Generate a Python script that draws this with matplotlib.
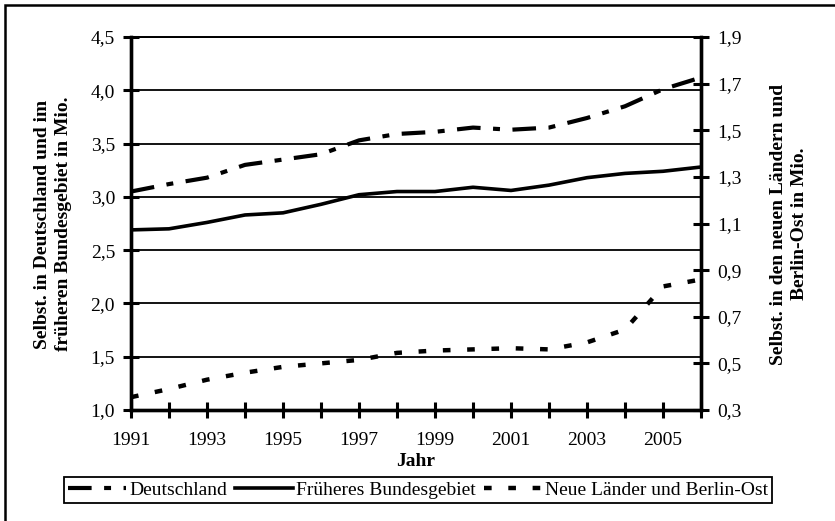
import numpy as np
import matplotlib
matplotlib.use("Agg")
import matplotlib.pyplot as plt
from matplotlib.patches import Rectangle
from matplotlib.ticker import FuncFormatter

# Data
years = list(range(1991, 2007))
deutschland = [3.05, 3.12, 3.18, 3.30, 3.35, 3.40, 3.53, 3.59, 3.61, 3.65, 3.63,
               3.65, 3.74, 3.85, 4.01, 4.12]
frueheres = [2.69, 2.70, 2.76, 2.83, 2.85, 2.93, 3.02, 3.05, 3.05, 3.09, 3.06,
             3.11, 3.18, 3.22, 3.24, 3.28]
neue = [0.355, 0.39, 0.43, 0.46, 0.485, 0.50, 0.515, 0.545, 0.555, 0.56, 0.565,
        0.56, 0.59, 0.645, 0.83, 0.86]
x_labels = [1991, 1993, 1995, 1997, 1999, 2001, 2003, 2005]

plt.rcParams["font.family"] = ["Liberation Serif", "DejaVu Serif"]
plt.rcParams["lines.scale_dashes"] = False

fig = plt.figure(figsize=(8.35, 5.21), dpi=100)
ax = fig.add_axes([131 / 835, 111 / 521, 570 / 835, 373 / 521])
ax2 = ax.twinx()

comma = FuncFormatter(lambda v, p: f"{v:.1f}".replace(".", ","))

# Left axis
ax.set_xlim(1991, 2006)
ax.set_ylim(1.0, 4.5)
ax.set_yticks(np.arange(1.0, 4.51, 0.5))
ax.yaxis.set_major_formatter(comma)
ax.set_xticks(years)
ax.set_xticklabels([str(y) if y in x_labels else "" for y in years])
ax.grid(axis="y", color="black", linewidth=1.3)
ax.set_axisbelow(True)

ln1, = ax.plot(years, deutschland, color="black", linewidth=3.0,
               dashes=(17, 9, 5, 9), solid_capstyle="butt", dash_capstyle="butt")
ln2, = ax.plot(years, frueheres, color="black", linewidth=2.6)

# Right axis
ax2.set_ylim(0.3, 1.9)
ax2.set_yticks(np.arange(0.3, 1.91, 0.2))
ax2.yaxis.set_major_formatter(comma)
ln3, = ax2.plot(years, neue, color="black", linewidth=3.2,
                dashes=(5.5, 12), dash_capstyle="butt")

for a in (ax, ax2):
    for side in ("left", "right", "bottom"):
        a.spines[side].set_linewidth(2.4)
    a.spines["top"].set_linewidth(1.3)
    a.tick_params(direction="inout", length=11, width=2.2, labelsize=14,
                  pad=6, colors="black")
ax.tick_params(axis="x", pad=10)

ax.set_xlabel("Jahr", fontsize=14, fontweight="bold", labelpad=3)

fig.text(53 / 835, 0.57, "Selbst. in Deutschland und im\nfrüheren Bundesgebiet in Mio.",
         rotation=90, ha="center", va="center", fontsize=14, fontweight="bold",
         linespacing=1.35)
fig.text(789 / 835, 0.57, "Selbst. in den neuen Ländern und\nBerlin-Ost in Mio.",
         rotation=90, ha="center", va="center", fontsize=14, fontweight="bold",
         linespacing=1.35)

leg = fig.legend([ln1, ln2, ln3],
                 ["Deutschland", "Früheres Bundesgebiet", "Neue Länder und Berlin-Ost"],
                 loc="center", bbox_to_anchor=(418 / 835, 31 / 521), ncol=3,
                 fontsize=14, handlelength=3.0, handletextpad=0.15,
                 columnspacing=0.4, borderpad=0.2, fancybox=False,
                 framealpha=1, edgecolor="black", borderaxespad=0)
leg.get_frame().set_linewidth(1.3)

# outer frame (only left and top visible in the reference)
fig.patches.append(Rectangle((5 / 835, -0.05), 1.0, 0.05 + 516 / 521,
                             transform=fig.transFigure, fill=False,
                             edgecolor="black", linewidth=1.8))

fig.savefig("out.png", dpi=100)
